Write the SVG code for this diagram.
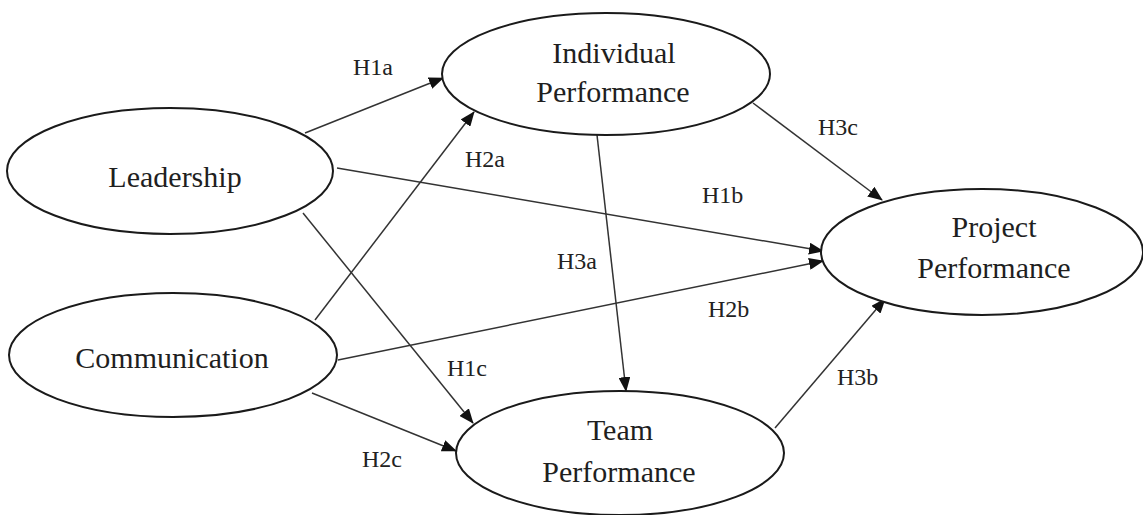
<svg xmlns="http://www.w3.org/2000/svg" width="1143" height="515" viewBox="0 0 1143 515">
<style>
.node ellipse{fill:#fff;stroke:#1a1a1a;stroke-width:2}
.node text{font-family:'Liberation Serif','DejaVu Serif',serif;font-size:30px;fill:#1f1f1f;text-anchor:middle}
.edge line{stroke:#333;stroke-width:1.5;marker-end:url(#arr)}
.lbl{font-family:'Liberation Serif','DejaVu Serif',serif;font-size:24px;fill:#222}
</style>
<defs>
<marker id="arr" markerUnits="userSpaceOnUse" markerWidth="15" markerHeight="12" refX="14" refY="6" orient="auto">
<path d="M0,0 L15,6 L0,12 z" fill="#111"/>
</marker>
</defs>
<rect width="1143" height="515" fill="#fff"/>
<g id="connectors" class="edge">
<line x1="305" y1="133" x2="443" y2="78"/>
<line x1="315" y1="320" x2="474" y2="112"/>
<line x1="337" y1="168" x2="823" y2="251"/>
<line x1="303" y1="213" x2="473" y2="423"/>
<line x1="338" y1="360" x2="823" y2="261"/>
<line x1="312" y1="393" x2="456" y2="451"/>
<line x1="597" y1="135" x2="626" y2="391"/>
<line x1="753" y1="103" x2="882" y2="200"/>
<line x1="775" y1="428" x2="885" y2="299"/>
</g>
<g id="labels" font-family="Liberation Serif, DejaVu Serif, serif">
<text class="lbl" x="353" y="75">H1a</text>
<text class="lbl" x="465" y="167">H2a</text>
<text class="lbl" x="818" y="135">H3c</text>
<text class="lbl" x="702" y="203">H1b</text>
<text class="lbl" x="557" y="269">H3a</text>
<text class="lbl" x="708" y="317">H2b</text>
<text class="lbl" x="447" y="376">H1c</text>
<text class="lbl" x="362" y="467">H2c</text>
<text class="lbl" x="837" y="385">H3b</text>
</g>
<g id="leadership" class="node" font-family="Liberation Serif, DejaVu Serif, serif">
<ellipse cx="170" cy="171" rx="163" ry="63"/>
<text x="175" y="187">Leadership</text>
</g>
<g id="communication" class="node" font-family="Liberation Serif, DejaVu Serif, serif">
<ellipse cx="173" cy="355" rx="164" ry="62"/>
<text x="172" y="368">Communication</text>
</g>
<g id="individual" class="node" font-family="Liberation Serif, DejaVu Serif, serif">
<ellipse cx="606" cy="74" rx="164" ry="61"/>
<text x="614" y="63">Individual</text>
<text x="613" y="102">Performance</text>
</g>
<g id="team" class="node" font-family="Liberation Serif, DejaVu Serif, serif">
<ellipse cx="620" cy="453" rx="164" ry="62"/>
<text x="620" y="440">Team</text>
<text x="619" y="482">Performance</text>
</g>
<g id="project" class="node" font-family="Liberation Serif, DejaVu Serif, serif">
<ellipse cx="982" cy="252" rx="161" ry="63"/>
<text x="994" y="237">Project</text>
<text x="994" y="278">Performance</text>
</g>
</svg>
